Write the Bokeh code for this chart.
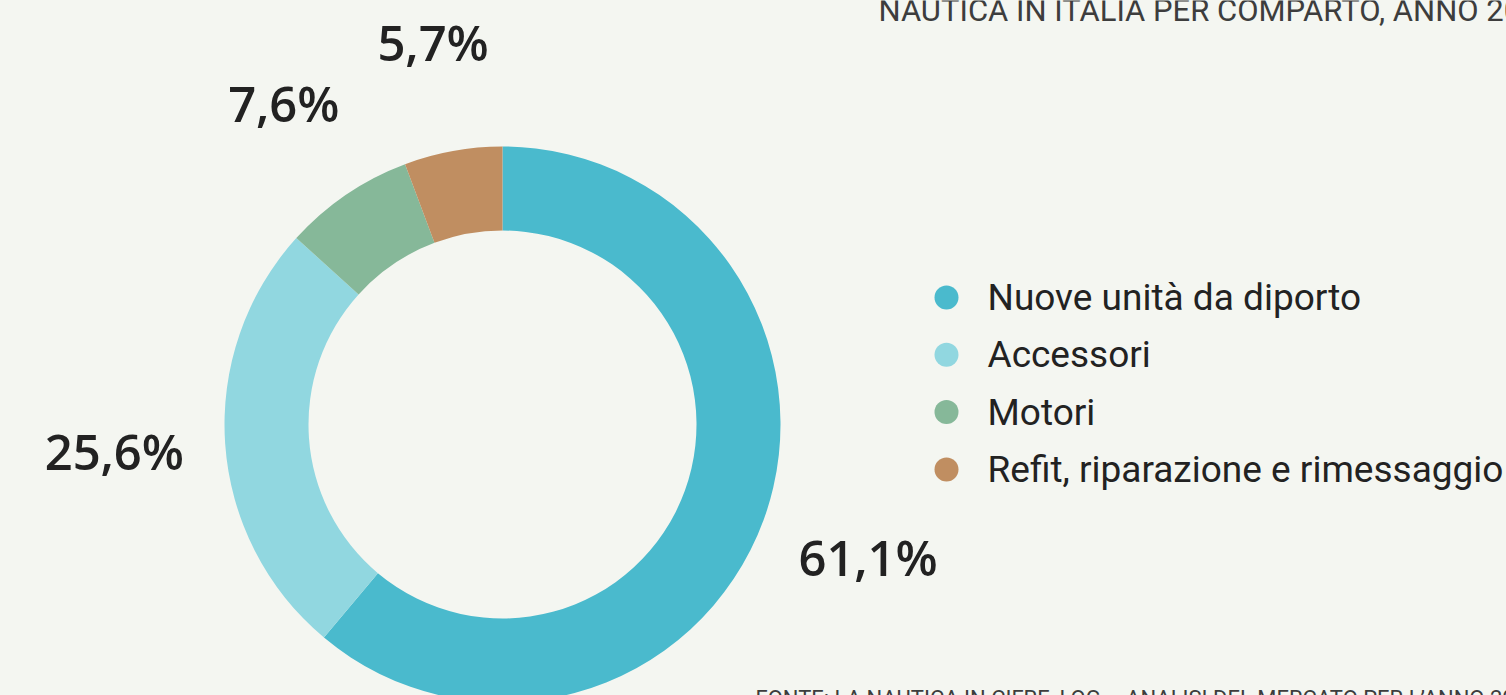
import math
from bokeh.plotting import figure
from bokeh.models import Range1d
from bokeh.core.properties import value
from bokeh.embed import file_html
from bokeh.resources import INLINE

# ---- data ----
categories = ["Nuove unità da diporto", "Accessori", "Motori", "Refit, riparazione e rimessaggio"]
shares = [61.1, 25.6, 7.6, 5.7]
labels = ["61,1%", "25,6%", "7,6%", "5,7%"]
colors = ["#4abacd", "#91d7e0", "#86b899", "#c08e61"]
title_text = "NAUTICA IN ITALIA PER COMPARTO, ANNO 2021"
source_text = "FONTE: LA NAUTICA IN CIFRE, LOG – ANALISI DEL MERCATO PER L’ANNO 2021"

BG = "#f4f6f1"
W, H = 1506, 695

p = figure(width=W, height=H, output_backend="svg", toolbar_location=None,
           x_range=Range1d(0, W), y_range=Range1d(-H, 0),
           min_border=0, background_fill_color=BG, border_fill_color=BG)
p.axis.visible = False
p.grid.visible = False
p.outline_line_color = None

# donut
cx, cy = 502, -424
r_in, r_out = 194, 278
total = sum(shares)
starts, ends, mids = [], [], []
cum = 0.0
for s in shares:
    a0 = math.pi / 2 - 2 * math.pi * cum / total
    cum += s
    a1 = math.pi / 2 - 2 * math.pi * cum / total
    starts.append(a0)
    ends.append(a1)
    mids.append((a0 + a1) / 2)

p.annular_wedge(x=cx, y=cy, inner_radius=r_in, outer_radius=r_out,
                start_angle=starts, end_angle=ends, direction="clock",
                fill_color=colors, line_color=None)

# percentage labels
r_lab = 389
lx = [cx + r_lab * math.cos(m) for m in mids]
ly = [cy + r_lab * math.sin(m) for m in mids]
p.text(x=lx, y=ly, text=labels, text_align="center", text_baseline="middle",
       text_font=value("Open Sans SemiBold, Open Sans"), text_font_size="49px",
       text_color="#222222")

# legend
leg_x = 946
leg_y0 = -297
leg_dy = 57.3
leg_ys = [leg_y0 - i * leg_dy for i in range(len(categories))]
p.scatter(x=[leg_x] * len(categories), y=leg_ys, size=24, marker="circle",
          fill_color=colors, line_color=None)
p.text(x=[leg_x + 41] * len(categories), y=leg_ys, text=categories,
       text_align="left", text_baseline="middle",
       text_font=value("Roboto"), text_font_size="37px", text_color="#222222")

# title (clipped at top) and source (clipped at bottom)
p.text(x=[878], y=[-10], text=[title_text], text_align="left", text_baseline="alphabetic",
       text_font=value("Roboto"), text_font_size="31px", text_color="#3d3d3d")
p.text(x=[755], y=[-698], text=[source_text], text_align="left", text_baseline="alphabetic",
       text_font=value("Roboto"), text_font_size="22px", text_color="#3d3d3d")

html = file_html(p, INLINE)
html = html.replace("</head>", "<style>body{background:%s;}</style></head>" % BG, 1)
open("out.html", "w").write(html)
